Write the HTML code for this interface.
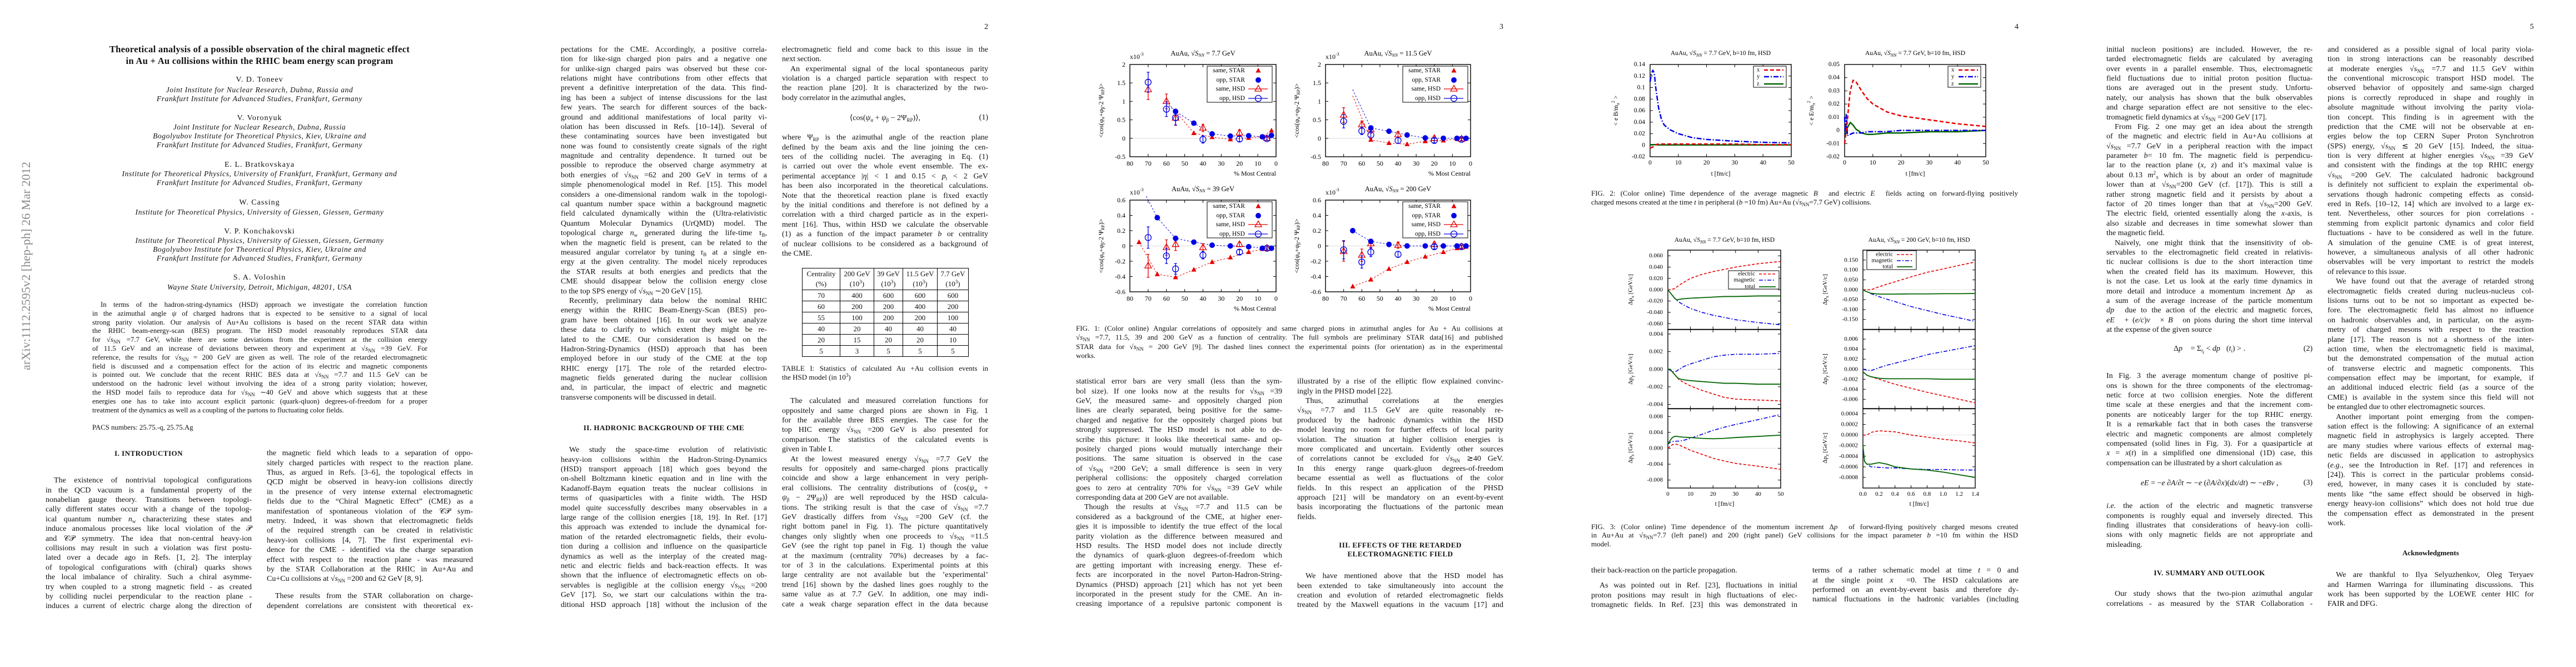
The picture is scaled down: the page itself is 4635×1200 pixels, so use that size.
<!DOCTYPE html>
<html><head><meta charset="utf-8">
<style>
html,body{margin:0;padding:0;background:#fff}
body{width:4635px;height:1200px;position:relative;overflow:hidden;font-family:"Liberation Serif",serif;color:#111}
.pg{position:absolute;top:0;width:927px;height:1200px}
.c{position:absolute;width:371px;font-size:14px;line-height:17.4px}
.c div,.cap div,.abs div{white-space:nowrap;text-align:justify;text-align-last:justify;overflow:visible}
.c div{height:17.4px}
.c div.e,.cap div.e,.abs div.e{text-align-last:left}
.c div.i,.abs div.i{text-indent:15px}
sub,sup{font-size:9px;line-height:0;vertical-align:baseline;position:relative}
sub{top:3px}sup{top:-5px}
.h{position:absolute;font-weight:bold;font-size:13px;text-align:center;white-space:nowrap;letter-spacing:.5px}
.cap{position:absolute;width:768px;font-size:13px;line-height:15.6px}
.abs{position:absolute;left:166px;width:603px;font-size:12.8px;line-height:15.8px}
.ctr{position:absolute;left:82px;width:770px;text-align:center;white-space:nowrap}
.au{font-size:14px;letter-spacing:1px}
.af{font-size:13.5px;font-style:italic;letter-spacing:.6px}
.pn{position:absolute;top:41px;left:800px;width:51px;text-align:right;font-size:14px}
.eq{position:absolute;width:371px;font-size:14px;text-align:center;white-space:nowrap}
.eq span{position:absolute;right:0}
table.t{position:absolute;left:516px;top:482px;border-collapse:collapse;font-size:13px;text-align:center}
table.t td{border:1px solid #000;padding:0;height:19px;line-height:19px}
svg#charts{position:absolute;left:0;top:0}
</style></head>
<body>

<svg id="charts" width="4635" height="1200">
<text transform="translate(54,666) rotate(-90)" textLength="375" lengthAdjust="spacingAndGlyphs" font-size="22" fill="#8a8a8a" font-family="Liberation Serif">arXiv:1112.2595v2  [hep-ph]  26 Mar 2012</text>
</svg>

<!-- PAGE 1 -->
<div class="pg" style="left:0">
  <div class="ctr" style="top:78px;font-weight:bold;font-size:16.5px;line-height:21px;letter-spacing:.3px">Theoretical analysis of a possible observation of the chiral magnetic effect<br>in Au + Au collisions within the RHIC beam energy scan program</div>
  <div class="ctr au" style="top:136px">V. D. Toneev</div>
  <div class="ctr af" style="top:154px">Joint Institute for Nuclear Research, Dubna, Russia and</div>
  <div class="ctr af" style="top:170px">Frankfurt Institute for Advanced Studies, Frankfurt, Germany</div>
  <div class="ctr au" style="top:205px">V. Voronyuk</div>
  <div class="ctr af" style="top:221px">Joint Institute for Nuclear Research, Dubna, Russia</div>
  <div class="ctr af" style="top:237px">Bogolyubov Institute for Theoretical Physics, Kiev, Ukraine and</div>
  <div class="ctr af" style="top:253px">Frankfurt Institute for Advanced Studies, Frankfurt, Germany</div>
  <div class="ctr au" style="top:289px">E. L. Bratkovskaya</div>
  <div class="ctr af" style="top:305px">Institute for Theoretical Physics, University of Frankfurt, Frankfurt, Germany  and</div>
  <div class="ctr af" style="top:321px">Frankfurt Institute for Advanced Studies, Frankfurt, Germany</div>
  <div class="ctr au" style="top:357px">W. Cassing</div>
  <div class="ctr af" style="top:374px">Institute for Theoretical Physics, University of Giessen, Giessen, Germany</div>
  <div class="ctr au" style="top:409px">V. P. Konchakovski</div>
  <div class="ctr af" style="top:425px">Institute for Theoretical Physics, University of Giessen, Giessen, Germany</div>
  <div class="ctr af" style="top:441px">Bogolyubov Institute for Theoretical Physics, Kiev, Ukraine and</div>
  <div class="ctr af" style="top:457px">Frankfurt Institute for Advanced Studies, Frankfurt, Germany</div>
  <div class="ctr au" style="top:492px">S. A. Voloshin</div>
  <div class="ctr af" style="top:509px">Wayne State University, Detroit, Michigan, 48201, USA</div>

  <div class="abs" style="top:541px">
    <div class="i">In terms of the hadron-string-dynamics (HSD) approach we investigate the correlation function</div>
    <div>in the azimuthal angle <i>ψ</i> of charged hadrons that is expected to be sensitive to a signal of local</div>
    <div>strong parity violation. Our analysis of Au+Au collisions is based on the recent STAR data within</div>
    <div>the RHIC beam-energy-scan (BES) program. The HSD model reasonably reproduces STAR data</div>
    <div>for √<i>s</i><sub>NN</sub> =7.7 GeV, while there are some deviations from the experiment at the collision energy</div>
    <div>of 11.5 GeV and an increase of deviations between theory and experiment at √<i>s</i><sub>NN</sub> =39 GeV. For</div>
    <div>reference, the results for √<i>s</i><sub>NN</sub> = 200 GeV are given as well. The role of the retarded electromagnetic</div>
    <div>field is discussed and a compensation effect for the action of its electric and magnetic components</div>
    <div>is pointed out. We conclude that the recent RHIC BES data at √<i>s</i><sub>NN</sub> =7.7 and 11.5 GeV can be</div>
    <div>understood on the hadronic level without involving the idea of a strong parity violation; however,</div>
    <div>the HSD model fails to reproduce data for √<i>s</i><sub>NN</sub> ∼40 GeV and above which suggests that at these</div>
    <div>energies one has to take into account explicit partonic (quark-qluon) degrees-of-freedom for a proper</div>
    <div class="e">treatment of the dynamics as well as a coupling of the partons to fluctuating color fields.</div>
  </div>
  <div style="position:absolute;left:166px;top:762px;font-size:12.8px">PACS numbers: 25.75.-q, 25.75.Ag</div>
  <div class="h" style="left:82px;width:371px;top:808px">I.   INTRODUCTION</div>
  <div class="c" style="left:82px;top:856.3px">
    <div class="i">The existence of nontrivial topological configurations</div>
    <div>in the QCD vacuum is a fundamental property of the</div>
    <div>nonabelian gauge theory. Transitions between topologi-</div>
    <div>cally different states occur with a change of the topolog-</div>
    <div>ical quantum number <i>n</i><sub>w</sub> characterizing these states and</div>
    <div>induce anomalous processes like local violation of the 𝒫</div>
    <div>and 𝒞𝒫 symmetry. The idea that non-central heavy-ion</div>
    <div>collisions may result in such a violation was first postu-</div>
    <div>lated over a decade ago in Refs. [1, 2]. The interplay</div>
    <div>of topological configurations with (chiral) quarks shows</div>
    <div>the local imbalance of chirality. Such a chiral asymme-</div>
    <div>try when coupled to a strong magnetic field - as created</div>
    <div>by colliding nuclei perpendicular to the reaction plane -</div>
    <div>induces a current of electric charge along the direction of</div>
  </div>
  <div class="c" style="left:480px;top:807.3px">
    <div>the magnetic field which leads to a separation of oppo-</div>
    <div>sitely charged particles with respect to the reaction plane.</div>
    <div>Thus, as argued in Refs. [3–6], the topological effects in</div>
    <div>QCD might be observed in heavy-ion collisions directly</div>
    <div>in the presence of very intense external electromagnetic</div>
    <div>fields due to the “Chiral Magnetic Effect” (CME) as a</div>
    <div>manifestation of spontaneous violation of the 𝒞𝒫 sym-</div>
    <div>metry. Indeed, it was shown that electromagnetic fields</div>
    <div>of the required strength can be created in relativistic</div>
    <div>heavy-ion collisions [4, 7]. The first experimental evi-</div>
    <div>dence for the CME - identified via the charge separation</div>
    <div>effect with respect to the reaction plane - was measured</div>
    <div>by the STAR Collaboration at the RHIC in Au+Au and</div>
    <div class="e">Cu+Cu collisions at √<i>s</i><sub>NN</sub> =200 and 62 GeV [8, 9].</div>
  </div>
  <div class="c" style="left:480px;top:1064.3px">
    <div class="i">These results from the STAR collaboration on charge-</div>
    <div>dependent correlations are consistent with theoretical ex-</div>
  </div>
</div>

<!-- PAGE 2 -->
<div class="pg" style="left:927px">
  <div class="pn">2</div>
  <div class="c" style="left:82px;top:80.8px">
    <div>pectations for the CME. Accordingly, a positive correla-</div>
    <div>tion for like-sign charged pion pairs and a negative one</div>
    <div>for unlike-sign charged pairs was observed but these cor-</div>
    <div>relations might have contributions from other effects that</div>
    <div>prevent a definitive interpretation of the data. This find-</div>
    <div>ing has been a subject of intense discussions for the last</div>
    <div>few years. The search for different sources of the back-</div>
    <div>ground and additional manifestations of local parity vi-</div>
    <div>olation has been discussed in Refs. [10–14]). Several of</div>
    <div>these contaminating sources have been investigated but</div>
    <div>none was found to consistently create signals of the right</div>
    <div>magnitude and centrality dependence. It turned out be</div>
    <div>possible to reproduce the observed charge asymmetry at</div>
    <div>both energies of √<i>s</i><sub>NN</sub> =62 and 200 GeV in terms of a</div>
    <div>simple phenomenological model in Ref. [15]. This model</div>
    <div>considers a one-dimensional random walk in the topologi-</div>
    <div>cal quantum number space within a background magnetic</div>
    <div>field calculated dynamically within the (Ultra-relativistic</div>
    <div>Quantum Molecular Dynamics (UrQMD) model. The</div>
    <div>topological charge <i>n</i><sub>w</sub> generated during the life-time <i>τ</i><sub>B</sub>,</div>
    <div>when the magnetic field is present, can be related to the</div>
    <div>measured angular correlator by tuning <i>τ</i><sub>B</sub> at a single en-</div>
    <div>ergy at the given centrality. The model nicely reproduces</div>
    <div>the STAR results at both energies and predicts that the</div>
    <div>CME should disappear below the collision energy close</div>
    <div class="e">to the top SPS energy of √<i>s</i><sub>NN</sub> ∼20 GeV  [15].</div>
    <div class="i">Recently, preliminary data below the nominal RHIC</div>
    <div>energy within the RHIC Beam-Energy-Scan (BES) pro-</div>
    <div>gram have been obtained [16]. In our work we analyze</div>
    <div>these data to clarify to which extent they might be re-</div>
    <div>lated to the CME. Our consideration is based on the</div>
    <div>Hadron-String-Dynamics (HSD) approach that has been</div>
    <div>employed before in our study of the CME at the top</div>
    <div>RHIC energy [17].  The role of the retarded electro-</div>
    <div>magnetic fields generated during the nuclear collision</div>
    <div>and, in particular, the impact of electric and magnetic</div>
    <div class="e">transverse components will be discussed in detail.</div>
  </div>
  <div class="h" style="left:82px;width:371px;top:762px">II.   HADRONIC BACKGROUND OF THE CME</div>
  <div class="c" style="left:82px;top:801.3px">
    <div class="i">We study the space-time evolution of relativistic</div>
    <div>heavy-ion collisions within the Hadron-String-Dynamics</div>
    <div>(HSD) transport approach [18] which goes beyond the</div>
    <div>on-shell Boltzmann kinetic equation and in line with the</div>
    <div>Kadanoff-Baym equation treats the nuclear collisions in</div>
    <div>terms of quasiparticles with a finite width. The HSD</div>
    <div>model quite successfully describes many observables in a</div>
    <div>large range of the collision energies [18, 19]. In Ref. [17]</div>
    <div>this approach was extended to include the dynamical for-</div>
    <div>mation of the retarded electromagnetic fields, their evolu-</div>
    <div>tion during a collision and influence on the quasiparticle</div>
    <div>dynamics as well as the interplay of the created mag-</div>
    <div>netic and electric fields and back-reaction effects. It was</div>
    <div>shown that the influence of electromagnetic effects on ob-</div>
    <div>servables is negligible at the collision energy √<i>s</i><sub>NN</sub> =200</div>
    <div>GeV [17]. So, we start our calculations within the tra-</div>
    <div>ditional HSD approach [18] without the inclusion of the</div>
  </div>
  <div class="c" style="left:480px;top:80.8px">
    <div>electromagnetic field and come back to this issue in the</div>
    <div class="e">next section.</div>
    <div class="i">An experimental signal of the local spontaneous parity</div>
    <div>violation is a charged particle separation with respect to</div>
    <div>the reaction plane [20]. It is characterized by the two-</div>
    <div class="e">body correlator in the azimuthal angles,</div>
  </div>
  <div class="eq" style="left:480px;top:204px">⟨cos(<i>ψ</i><sub>α</sub> + <i>ψ</i><sub>β</sub> − 2Ψ<sub>RP</sub>)⟩,<span>(1)</span></div>
  <div class="c" style="left:480px;top:239.3px">
    <div>where Ψ<sub>RP</sub> is the azimuthal angle of the reaction plane</div>
    <div>defined by the beam axis and the line joining the cen-</div>
    <div>ters of the colliding nuclei. The averaging in Eq. (1)</div>
    <div>is carried out over the whole event ensemble. The ex-</div>
    <div>perimental acceptance |<i>η</i>| &lt; 1 and 0.15 &lt; <i>p</i><sub>t</sub> &lt; 2 GeV</div>
    <div>has been also incorporated in the theoretical calculations.</div>
    <div>Note that the theoretical reaction plane is fixed exactly</div>
    <div>by the initial conditions and therefore is not defined by a</div>
    <div>correlation with a third charged particle as in the experi-</div>
    <div>ment [16]. Thus, within HSD we calculate the observable</div>
    <div>(1) as a function of the impact parameter <i>b</i> or centrality</div>
    <div>of nuclear collisions to be considered as a background of</div>
    <div class="e">the CME.</div>
  </div>
  <table class="t">
    <tr><td style="width:67px;height:38px;line-height:18px">Centrality<br>(%)</td><td style="width:60px;line-height:18px">200 GeV<br>(10<sup>3</sup>)</td><td style="width:51px;line-height:18px">39 GeV<br>(10<sup>3</sup>)</td><td style="width:61px;line-height:18px">11.5 GeV<br>(10<sup>3</sup>)</td><td style="width:55px;line-height:18px">7.7 GeV<br>(10<sup>3</sup>)</td></tr>
    <tr><td>70</td><td>400</td><td>600</td><td>600</td><td>600</td></tr>
    <tr><td>60</td><td>200</td><td>200</td><td>400</td><td>200</td></tr>
    <tr><td>55</td><td>100</td><td>200</td><td>200</td><td>100</td></tr>
    <tr><td>40</td><td>20</td><td>40</td><td>40</td><td>40</td></tr>
    <tr><td>20</td><td>15</td><td>20</td><td>20</td><td>10</td></tr>
    <tr><td>5</td><td>3</td><td>5</td><td>5</td><td>5</td></tr>
  </table>
  <div class="cap" style="left:480px;width:371px;top:655px">
    <div>TABLE I: Statistics of calculated Au +Au collision events in</div>
    <div class="e">the HSD model (in 10<sup>3</sup>)</div>
  </div>
  <div class="c" style="left:480px;top:713.3px">
    <div class="i">The calculated and measured correlation functions for</div>
    <div>oppositely and same charged pions are shown in Fig. 1</div>
    <div>for the available three BES energies. The case for the</div>
    <div>top HIC energy √<i>s</i><sub>NN</sub> =200 GeV is also presented for</div>
    <div>comparison. The statistics of the calculated events is</div>
    <div class="e">given in Table I.</div>
    <div class="i">At the lowest measured energy √<i>s</i><sub>NN</sub> =7.7 GeV the</div>
    <div>results for oppositely and same-charged pions practically</div>
    <div>coincide and show a large enhancement in very periph-</div>
    <div>eral collisions. The centrality distributions of ⟨cos(<i>ψ</i><sub>α</sub> +</div>
    <div><i>ψ</i><sub>β</sub> − 2Ψ<sub>RP</sub>)⟩ are well reproduced by the HSD calcula-</div>
    <div>tions. The striking result is that the case of √<i>s</i><sub>NN</sub> =7.7</div>
    <div>GeV drastically differs from √<i>s</i><sub>NN</sub> =200 GeV (cf. the</div>
    <div>right bottom panel in Fig. 1). The picture quantitatively</div>
    <div>changes only slightly when one proceeds to √<i>s</i><sub>NN</sub> =11.5</div>
    <div>GeV (see the right top panel in Fig. 1) though the value</div>
    <div>at the maximum (centrality 70%) decreases by a fac-</div>
    <div>tor of 3 in the calculations. Experimental points at this</div>
    <div>large centrality are not available but the ’experimental’</div>
    <div>trend [16] shown by the dashed lines goes roughly to the</div>
    <div>same value as at 7.7 GeV. In addition, one may indi-</div>
    <div>cate a weak charge separation effect in the data because</div>
  </div>
</div>

<!-- PAGE 3 -->
<div class="pg" style="left:1854px">
  <div class="pn">3</div>
  <div class="cap" style="left:82px;top:583px;line-height:16.3px">
    <div>FIG. 1: (Color online) Angular correlations of oppositely and same charged pions in azimuthal angles for Au + Au collisions at</div>
    <div>√<i>s</i><sub>NN</sub> =7.7, 11.5, 39 and 200 GeV as a function of centrality. The full symbols are preliminary STAR data[16] and published</div>
    <div>STAR data for √<i>s</i><sub>NN</sub> = 200 GeV [9]. The dashed lines connect the experimental points (for orientation) as in the experimental</div>
    <div class="e">works.</div>
  </div>
  <div class="c" style="left:82px;top:678.3px">
    <div>statistical error bars are very small (less than the sym-</div>
    <div>bol size). If one looks now at the results for √<i>s</i><sub>NN</sub> =39</div>
    <div>GeV, the measured same- and oppositely charged pion</div>
    <div>lines are clearly separated, being positive for the same-</div>
    <div>charged and negative for the oppositely charged pions but</div>
    <div>strongly suppressed. The HSD model is not able to de-</div>
    <div>scribe this picture: it looks like theoretical same- and op-</div>
    <div>positely charged pions would mutually interchange their</div>
    <div>positions. The same situation is observed in the case</div>
    <div>of √<i>s</i><sub>NN</sub> =200 GeV; a small difference is seen in very</div>
    <div>peripheral collisions: the oppositely charged correlation</div>
    <div>goes to zero at centrality 70% for √<i>s</i><sub>NN</sub> =39 GeV while</div>
    <div class="e">corresponding data at 200 GeV are not available.</div>
    <div class="i">Though the results at √<i>s</i><sub>NN</sub> =7.7 and 11.5 can be</div>
    <div>considered as a background of the CME, at higher ener-</div>
    <div>gies it is impossible to identify the true effect of the local</div>
    <div>parity violation as the difference between measured and</div>
    <div>HSD results. The HSD model does not include directly</div>
    <div>the dynamics of quark-gluon degrees-of-freedom which</div>
    <div>are getting important with increasing energy. These ef-</div>
    <div>fects are incorporated in the novel Parton-Hadron-String-</div>
    <div>Dynamics (PHSD) approach [21] which has not yet been</div>
    <div>incorporated in the present study for the CME. An in-</div>
    <div>creasing importance of a repulsive partonic component is</div>
  </div>
  <div class="c" style="left:480px;top:678.3px">
    <div>illustrated by a rise of the elliptic flow explained convinc-</div>
    <div class="e">ingly in the PHSD model [22].</div>
    <div class="i">Thus, azimuthal correlations at the energies</div>
    <div>√<i>s</i><sub>NN</sub> =7.7 and 11.5 GeV are quite reasonably re-</div>
    <div>produced by the hadronic dynamics within the HSD</div>
    <div>model leaving no room for further effects of local parity</div>
    <div>violation. The situation at higher collision energies is</div>
    <div>more complicated and uncertain. Evidently other sources</div>
    <div>of correlations cannot be excluded for √<i>s</i><sub>NN</sub> ≳40 GeV.</div>
    <div>In this energy range quark-gluon degrees-of-freedom</div>
    <div>became essential as well as fluctuations of the color</div>
    <div>fields. In this respect an application of the PHSD</div>
    <div>approach [21] will be mandatory on an event-by-event</div>
    <div>basis incorporating the fluctuations of the partonic mean</div>
    <div class="e">fields.</div>
  </div>
  <div class="h" style="left:480px;width:371px;top:973px;line-height:16px">III.   EFFECTS OF THE RETARDED<br>ELECTROMAGNETIC FIELD</div>
  <div class="c" style="left:480px;top:1028.3px">
    <div class="i">We have mentioned above that the HSD model has</div>
    <div>been extended to take simultaneously into account the</div>
    <div>creation and evolution of retarded electromagnetic fields</div>
    <div>treated by the Maxwell equations in the vacuum [17] and</div>
  </div>
</div>

<!-- PAGE 4 -->
<div class="pg" style="left:2781px">
  <div class="pn">4</div>
  <div class="cap" style="left:82px;top:340px;line-height:15.5px">
    <div>FIG. 2: (Color online) Time dependence of the average magnetic <i>B⃗</i> and electric <i>E⃗</i> fields acting on forward-flying positively</div>
    <div class="e">charged mesons created at the time <i>t</i> in peripheral (<i>b</i> =10 fm) Au+Au (√<i>s</i><sub>NN</sub>=7.7 GeV) collisions.</div>
  </div>
  <div class="cap" style="left:82px;top:939.5px;line-height:15.5px">
    <div>FIG. 3: (Color online) Time dependence of the momentum increment Δ<i>p⃗</i> of forward-flying positively charged mesons created</div>
    <div>in Au+Au at √<i>s</i><sub>NN</sub>=7.7 (left panel) and 200 (right panel) GeV collisions for the impact parameter <i>b</i> =10 fm within the HSD</div>
    <div class="e">model.</div>
  </div>
  <div class="c" style="left:82px;top:1018.3px">
    <div class="e">their back-reaction on the particle propagation.</div>
  </div>
  <div class="c" style="left:82px;top:1045.3px">
    <div class="i">As was pointed out in Ref. [23], fluctuations in initial</div>
    <div>proton positions may result in high fluctuations of elec-</div>
    <div>tromagnetic fields. In Ref. [23] this was demonstrated in</div>
  </div>
  <div class="c" style="left:480px;top:1018.3px">
    <div>terms of a rather schematic model at time <i>t</i> = 0 and</div>
    <div>at the single point <i>x⃗</i> =0. The HSD calculations are</div>
    <div>performed on an event-by-event basis and therefore dy-</div>
    <div>namical fluctuations in the hadronic variables (including</div>
  </div>
</div>

<!-- PAGE 5 -->
<div class="pg" style="left:3708px">
  <div class="pn">5</div>
  <div class="c" style="left:82px;top:80.8px">
    <div>initial nucleon positions) are included. However, the re-</div>
    <div>tarded electromagnetic fields are calculated by averaging</div>
    <div>over events in a parallel ensemble. Thus, electromagnetic</div>
    <div>field fluctuations due to initial proton position fluctua-</div>
    <div>tions are averaged out in the present study. Unfortu-</div>
    <div>nately, our analysis has shown that the bulk observables</div>
    <div>and charge separation effect are not sensitive to the elec-</div>
    <div class="e">tromagnetic field dynamics at √<i>s</i><sub>NN</sub> =200 GeV [17].</div>
    <div class="i">From Fig. 2 one may get an idea about the strength</div>
    <div>of the magnetic and electric field in Au+Au collisions at</div>
    <div>√<i>s</i><sub>NN</sub> =7.7 GeV in a peripheral reaction with the impact</div>
    <div>parameter <i>b</i>= 10 fm. The magnetic field is perpendicu-</div>
    <div>lar to the reaction plane (<i>x, z</i>) and it’s maximal value is</div>
    <div>about 0.13 <i>m</i><sup>2</sup><sub>π</sub> which is by about an order of magnitude</div>
    <div>lower than at √<i>s</i><sub>NN</sub>=200 GeV (cf. [17]). This is still a</div>
    <div>rather strong magnetic field and it persists by about a</div>
    <div>factor of 20 times longer than that at √<i>s</i><sub>NN</sub>=200 GeV.</div>
    <div>The electric field, oriented essentially along the <i>x</i>-axis, is</div>
    <div>also sizable and decreases in time somewhat slower than</div>
    <div class="e">the magnetic field.</div>
    <div class="i">Naively, one might think that the insensitivity of ob-</div>
    <div>servables to the electromagnetic field created in relativis-</div>
    <div>tic nuclear collisions is due to the short interaction time</div>
    <div>when the created field has its maximum. However, this</div>
    <div>is not the case. Let us look at the early time dynamics in</div>
    <div>more detail and introduce a momentum increment Δ<i>p⃗</i> as</div>
    <div>a sum of the average increase of the particle momentum</div>
    <div><i>dp⃗</i> due to the action of the electric and magnetic forces,</div>
    <div><i>eE⃗</i> + (<i>e/c</i>)<i>v⃗</i> × <i>B⃗</i> on pions during the short time interval</div>
    <div class="e">at the expense of the given source</div>
  </div>
  <div class="eq" style="left:82px;top:620px">Δ<i>p⃗</i> = Σ<sub><i>t<sub>i</sub></i></sub> &lt; <i>dp⃗</i>(<i>t<sub>i</sub></i>) &gt; .<span>(2)</span></div>
  <div class="c" style="left:82px;top:668.3px">
    <div>In Fig. 3 the average momentum change of positive pi-</div>
    <div>ons is shown for the three components of the electromag-</div>
    <div>netic force at two collision energies. Note the different</div>
    <div>time scale at these energies and that the increment com-</div>
    <div>ponents are noticeably larger for the top RHIC energy.</div>
    <div>It is a remarkable fact that in both cases the transverse</div>
    <div>electric and magnetic components are almost completely</div>
    <div>compensated (solid lines in Fig. 3). For a quasiparticle at</div>
    <div><i>x</i> = <i>x</i>(<i>t</i>) in a simplified one dimensional (1D) case, this</div>
    <div class="e">compensation can be illustrated by a short calculation as</div>
  </div>
  <div class="eq" style="left:82px;top:861px"><i>eE</i> = −<i>e</i> ∂<i>A</i>/∂<i>t</i> ∼ −<i>e</i> (∂<i>A</i>/∂<i>x</i>)(<i>dx</i>/<i>dt</i>) ∼ −<i>eBv</i> ,<span>(3)</span></div>
  <div class="c" style="left:82px;top:902.3px">
    <div><i>i.e.</i> the action of the electric and magnetic transverse</div>
    <div>components is roughly equal and inversely directed. This</div>
    <div>finding illustrates that considerations of heavy-ion colli-</div>
    <div>sions with only magnetic fields are not appropriate and</div>
    <div class="e">misleading.</div>
  </div>
  <div class="h" style="left:82px;width:371px;top:1023px">IV.   SUMMARY AND OUTLOOK</div>
  <div class="c" style="left:82px;top:1060.3px">
    <div class="i">Our study shows that the two-pion azimuthal angular</div>
    <div>correlations - as measured by the STAR Collaboration -</div>
  </div>
  <div class="c" style="left:480px;top:80.8px">
    <div>and considered as a possible signal of local parity viola-</div>
    <div>tion in strong interactions can be reasonably described</div>
    <div>at moderate energies √<i>s</i><sub>NN</sub> =7.7 and 11.5 GeV within</div>
    <div>the conventional microscopic transport HSD model. The</div>
    <div>observed behavior of oppositely and same-sign charged</div>
    <div>pions is correctly reproduced in shape and roughly in</div>
    <div>absolute magnitude without involving the parity viola-</div>
    <div>tion concept.  This finding is in agreement with the</div>
    <div>prediction that the CME will not be observable at en-</div>
    <div>ergies below the top CERN Super Proton Synchrotron</div>
    <div>(SPS) energy, √<i>s</i><sub>NN</sub> ≲ 20 GeV [15]. Indeed, the situa-</div>
    <div>tion is very different at higher energies √<i>s</i><sub>NN</sub> =39 GeV</div>
    <div>and consistent with the findings at the top RHIC energy</div>
    <div>√<i>s</i><sub>NN</sub> =200 GeV. The calculated hadronic background</div>
    <div>is definitely not sufficient to explain the experimental ob-</div>
    <div>servations though hadronic competing effects as consid-</div>
    <div>ered in Refs. [10–12, 14] which are involved to a large ex-</div>
    <div>tent. Nevertheless, other sources for pion correlations -</div>
    <div>stemming from explicit partonic dynamics and color field</div>
    <div>fluctuations - have to be considered as well in the future.</div>
    <div>A simulation of the genuine CME is of great interest,</div>
    <div>however, a simultaneous analysis of all other hadronic</div>
    <div>observables will be very important to restrict the models</div>
    <div class="e">of relevance to this issue.</div>
    <div class="i">We have found out that the average of retarded strong</div>
    <div>electromagnetic fields created during nucleus-nucleus col-</div>
    <div>lisions turns out to be not so important as expected be-</div>
    <div>fore. The electromagnetic field has almost no influence</div>
    <div>on hadronic observables and, in particular, on the asym-</div>
    <div>metry of charged mesons with respect to the reaction</div>
    <div>plane [17]. The reason is not a shortness of the inter-</div>
    <div>action time, when the electromagnetic field is maximal,</div>
    <div>but the demonstrated compensation of the mutual action</div>
    <div>of transverse electric and magnetic components. This</div>
    <div>compensation effect may be important, for example, if</div>
    <div>an additional induced electric field (as a source of the</div>
    <div>CME) is available in the system since this field will not</div>
    <div class="e">be entangled due to other electromagnetic sources.</div>
    <div class="i">Another important point emerging from the compen-</div>
    <div>sation effect is the following: A significance of an external</div>
    <div>magnetic field in astrophysics is largely accepted. There</div>
    <div>are many studies where various effects of external mag-</div>
    <div>netic fields are discussed in application to astrophysics</div>
    <div>(<i>e.g.</i>, see the Introduction in Ref. [17] and references in</div>
    <div>[24]). This is correct in the particular problems consid-</div>
    <div>ered, however, in many cases it is concluded by state-</div>
    <div>ments like “the same effect should be observed in high-</div>
    <div>energy heavy-ion collisions” which does not hold true due</div>
    <div>the compensation effect as demonstrated in the present</div>
    <div class="e">work.</div>
  </div>
  <div class="h" style="left:480px;width:371px;top:987px;letter-spacing:0">Acknowledgments</div>
  <div class="c" style="left:480px;top:1026.3px">
    <div class="i">We are thankful to Ilya Selyuzhenkov, Oleg Teryaev</div>
    <div>and Harmen Warringa for illuminating discussions. This</div>
    <div>work has been supported by the LOEWE center HIC for</div>
    <div class="e">FAIR and DFG.</div>
  </div>
</div>

<script>
// ===== Figure 1 data (centrality %, correlator x1e-3) =====
const F1_XTICKS = [80,70,60,50,40,30,20,10,0];
const F1_YTICKS_TOP = [-0.5,0,0.5,1,1.5,2];
const F1_YTICKS_BOT = [-0.6,-0.4,-0.2,0,0.2,0.4,0.6];
const F1_HSD_X = [70,60,55,40,20,5];

const F1_STAR_X_77 = [55,45,35,25,15,7.5,2.5];
const F1_SAME_STAR_77 = [0.73,0.14,0.03,-0.03,0.01,0.04,0.21];
const F1_OPP_STAR_77 = [0.73,0.41,0.12,0.06,0.07,0.04,0.08];
const F1_TREND_X_77 = [60];
const F1_TREND_SAME_77 = [1.0];
const F1_TREND_OPP_77 = [0.95];
const F1_SAME_HSD_77 = [1.32,1.0,0.55,0.28,0.15,0.0];
const F1_SAME_ERR_77 = [0.27,0.2,0.2,0.1,0.08,0.05];
const F1_OPP_HSD_77 = [1.52,0.79,0.56,-0.03,-0.02,-0.01];
const F1_OPP_ERR_77 = [0.27,0.2,0.2,0.1,0.07,0.04];

const F1_STAR_X_115 = [55,45,35,25,15,7.5,2.5];
const F1_SAME_STAR_115 = [-0.04,-0.13,-0.16,-0.08,-0.06,-0.02,-0.01];
const F1_OPP_STAR_115 = [0.28,0.19,0.09,0.01,0.0,0.0,0.0];
const F1_TREND_X_115 = [65];
const F1_TREND_SAME_115 = [1.15];
const F1_TREND_OPP_115 = [1.32];
const F1_SAME_HSD_115 = [0.63,0.37,0.24,0.1,0.0,-0.02];
const F1_SAME_ERR_115 = [0.2,0.1,0.1,0.08,0.06,0.04];
const F1_OPP_HSD_115 = [0.46,0.2,0.09,-0.06,-0.06,-0.03];
const F1_OPP_ERR_115 = [0.18,0.1,0.1,0.08,0.06,0.04];

const F1_STAR_X_39 = [75,65,55,45,35,25,15,7.5,2.5];
const F1_SAME_STAR_39 = [0.05,-0.37,-0.41,-0.31,-0.21,-0.15,-0.08,-0.04,-0.03];
const F1_OPP_STAR_X_39 = [65,55,45,35,25,15,7.5,2.5];
const F1_OPP_STAR_39 = [0.37,0.1,0.05,0.01,0.0,-0.01,-0.03,-0.03];
const F1_TREND_X_39 = [71];
const F1_TREND_OPP_39 = [0.65];
const F1_SAME_HSD_39 = [-0.26,-0.02,0.02,-0.02,0.02,-0.03];
const F1_SAME_ERR_39 = [0.15,0.1,0.08,0.05,0.03,0.02];
const F1_OPP_HSD_39 = [0.11,-0.13,-0.3,-0.12,-0.08,-0.03];
const F1_OPP_ERR_39 = [0.14,0.1,0.07,0.05,0.03,0.02];

const F1_STAR_X_200 = [65,55,45,35,25,15,7.5,2.5];
const F1_SAME_STAR_200 = [-0.53,-0.44,-0.3,-0.21,-0.14,-0.08,-0.03,-0.01];
const F1_OPP_STAR_200 = [0.2,0.06,0.02,0.0,0.0,0.0,0.0,0.0];
const F1_SAME_HSD_200 = [-0.07,-0.12,0.03,0.01,0.02,-0.01];
const F1_SAME_ERR_200 = [0.13,0.08,0.06,0.04,0.03,0.02];
const F1_OPP_HSD_200 = [-0.05,-0.21,-0.08,-0.11,-0.01,-0.01];
const F1_OPP_ERR_200 = [0.12,0.08,0.06,0.04,0.03,0.02];

// ===== Figure 2 data (t in fm/c) =====
const F2_XTICKS = [0,10,20,30,40,50];
const F2_B_YTICKS = [-0.02,0,0.02,0.04,0.06,0.08,0.1,0.12,0.14];
const F2_E_YTICKS = [-0.02,-0.01,0,0.01,0.02,0.03,0.04,0.05];
const F2_BT = [0,0.5,1,1.5,2,3,4,5,7,10,15,20,30,40,50];
const F2_BX = [-0.005,-0.004,-0.003,-0.001,0.001,0.002,0.002,0.002,0.002,0.002,0.002,0.002,0.002,0.001,0.001];
const F2_BY = [0.11,0.125,0.13,0.125,0.1,0.065,0.045,0.035,0.027,0.02,0.013,0.01,0.007,0.005,0.004];
const F2_BZ = [0.001,0.001,0.001,0.001,0.001,0.0005,0.0005,0.0005,0.0005,0.0005,0.0005,0.0005,0.0005,0.0005,0.0005];
const F2_ET = [0,0.3,0.6,1,1.5,2,3,4,6,8,10,15,20,30,40,50];
const F2_EX = [-0.01,-0.005,0.0,0.008,0.02,0.03,0.038,0.037,0.03,0.024,0.02,0.014,0.011,0.008,0.005,0.003];
const F2_EY = [0.01,-0.005,0.012,-0.004,-0.003,-0.003,-0.002,-0.002,-0.002,-0.001,-0.001,-0.001,0.0,0.0,0.0,0.0];
const F2_EZ = [-0.002,-0.004,0.0,0.002,0.004,0.006,0.004,0.001,-0.002,-0.003,-0.003,-0.002,-0.002,-0.001,-0.001,0.0];

// ===== Figure 3 data =====
const F3L_XTICKS = [0,10,20,30,40,50];
const F3R_XTICKS = [0,0.2,0.4,0.6,0.8,1.0,1.2,1.4];
const F3L_PX_TICKS = [-0.06,-0.04,-0.02,0,0.02,0.04,0.06];
const F3L_PY_TICKS = [-0.004,-0.002,0,0.002,0.004];
const F3L_PZ_TICKS = [-0.008,-0.004,0,0.004,0.008];
const F3R_PX_TICKS = [-0.15,-0.1,-0.05,0,0.05,0.1,0.15];
const F3R_PY_TICKS = [-0.006,-0.004,-0.002,0,0.002,0.004,0.006];
const F3R_PZ_TICKS = [-0.0008,-0.0006,-0.0004,-0.0002,0,0.0002,0.0004];

const F3L_T = [0,1,2,3,4,5,7,10,15,20,25,30,40,50];
const F3L_PX_EL = [0,0.0,0.001,0.002,0.005,0.008,0.013,0.02,0.027,0.032,0.036,0.04,0.046,0.05];
const F3L_PX_MAG = [0,-0.005,-0.01,-0.015,-0.019,-0.022,-0.027,-0.033,-0.04,-0.045,-0.049,-0.053,-0.058,-0.062];
const F3L_PX_TOT = [0,-0.005,-0.01,-0.015,-0.018,-0.017,-0.016,-0.015,-0.014,-0.013,-0.012,-0.012,-0.011,-0.011];
const F3L_PY_EL = [0,0.0,-0.0003,-0.0006,-0.0009,-0.0012,-0.0015,-0.0019,-0.0024,-0.0028,-0.0032,-0.0034,-0.0035,-0.0036];
const F3L_PY_MAG = [0,-0.0001,-0.0003,-0.0003,-0.0002,0.0,0.0003,0.0006,0.001,0.0014,0.0016,0.0017,0.0017,0.0018];
const F3L_PY_TOT = [0,0.0,-0.0003,-0.0006,-0.0009,-0.0011,-0.0012,-0.0013,-0.0014,-0.0015,-0.0016,-0.0016,-0.0017,-0.0017];
const F3L_PZ_EL = [0,0.0005,0.0009,0.001,0.001,0.0008,0.0003,-0.0005,-0.0015,-0.0025,-0.0032,-0.0038,-0.0045,-0.0053];
const F3L_PZ_MAG = [0.001,0.0015,0.0017,0.0017,0.0018,0.0018,0.002,0.0025,0.0035,0.0045,0.0053,0.006,0.0072,0.0085];
const F3L_PZ_TOT = [0.001,0.002,0.0027,0.003,0.003,0.0029,0.0028,0.0027,0.0025,0.0024,0.0025,0.0027,0.003,0.0033];

const F3R_T = [0,0.02,0.05,0.1,0.2,0.3,0.4,0.6,0.8,1.0,1.2,1.4];
const F3R_PX_EL = [0,0,0,0.0,0.015,0.028,0.04,0.065,0.088,0.105,0.123,0.14];
const F3R_PX_MAG = [0,-0.005,-0.01,-0.02,-0.035,-0.048,-0.06,-0.085,-0.105,-0.125,-0.142,-0.16];
const F3R_PX_TOT = [0,-0.005,-0.01,-0.018,-0.022,-0.022,-0.022,-0.021,-0.021,-0.02,-0.02,-0.019];
const F3R_PY_EL = [-0.0005,-0.0008,-0.0012,-0.0015,-0.002,-0.0025,-0.003,-0.0038,-0.0046,-0.0053,-0.006,-0.0067];
const F3R_PY_MAG = [0,-0.0001,-0.0002,-0.0003,0.0003,0.0008,0.0012,0.002,0.0029,0.0035,0.0041,0.0047];
const F3R_PY_TOT = [-0.0005,-0.0008,-0.0012,-0.0015,-0.0018,-0.0019,-0.0019,-0.0019,-0.0019,-0.002,-0.002,-0.002];
const F3R_PZ_EL = [0,0,0,0.00005,0.00008,0.00007,0.00006,0.0,-0.00004,-0.00008,-0.00011,-0.00015];
const F3R_PZ_MAG = [-0.0003,-0.0005,-0.00055,-0.0006,-0.00061,-0.00062,-0.00062,-0.00064,-0.00065,-0.00065,-0.00066,-0.00066];
const F3R_PZ_TOT = [-0.0002,-0.0005,-0.00055,-0.00055,-0.00052,-0.00055,-0.0006,-0.00064,-0.00066,-0.0007,-0.00075,-0.0008];

// ===== drawing =====
const NS = 'http://www.w3.org/2000/svg';
const SVG = document.getElementById('charts');
const RED = '#e60000', BLUE = '#0000e6', GREEN = '#006400';
function mk(tag, parent) { const e = document.createElementNS(NS, tag); parent.appendChild(e); return e; }
function at(e, o) { for (const k in o) e.setAttribute(k, o[k]); return e; }
function lin(d0, d1, r0, r1) { return v => r0 + (v - d0) / (d1 - d0) * (r1 - r0); }
function label(parent, x, y, html, size, anchor, name) {
  const t = mk('text', parent);
  at(t, {x: x, y: y, 'font-size': size, 'text-anchor': anchor, 'dominant-baseline': 'central', 'font-family': 'Liberation Serif, serif', fill: '#000'});
  
  
  t.innerHTML = html;
  return t;
}
function line(parent, x1, y1, x2, y2, stroke, w, name) {
  const l = mk('line', parent);
  at(l, {x1: x1, y1: y1, x2: x2, y2: y2, stroke: stroke, 'stroke-width': w});
  
  
  return l;
}
function poly(parent, xs, ys, X, Y, stroke, w, dash, name) {
  const p = mk('polyline', parent);
  const pts = xs.map((x, i) => X(x).toFixed(2) + ',' + Y(ys[i]).toFixed(2)).join(' ');
  at(p, {points: pts, fill: 'none', stroke: stroke, 'stroke-width': w, 'stroke-dasharray': dash, 'stroke-linejoin': 'round'});
  
  
  return p;
}
function frame(g, ox, oy, w, h, X, Y, xt, yt, name) {
  const r = mk('rect', g);
  at(r, {x: ox, y: oy, width: w, height: h, fill: 'none', stroke: '#000', 'stroke-width': 1.4});
  
  
  xt.forEach(v => { line(g, X(v), oy + h, X(v), oy + h - 5, '#000', 1, 'x-tick'); line(g, X(v), oy, X(v), oy + 5, '#000', 1, 'x-tick'); });
  yt.forEach(v => { line(g, ox, Y(v), ox + 5, Y(v), '#000', 1, 'y-tick'); line(g, ox + w, Y(v), ox + w - 5, Y(v), '#000', 1, 'y-tick'); });
}
function triFill(g, x, y, c, name) { const p = mk('path', g); at(p, {d: `M${x},${y-5}L${x+4.6},${y+3.5}L${x-4.6},${y+3.5}Z`, fill: c});   }
function triOpen(g, x, y, c, name) { const p = mk('path', g); at(p, {d: `M${x},${y-6.5}L${x+6},${y+4}L${x-6},${y+4}Z`, fill: 'none', stroke: c, 'stroke-width': 1.3});   }
function circ(g, x, y, r, c, filled, name) { const e = mk('circle', g); at(e, {cx: x, cy: y, r: r, fill: filled ? c : 'none', stroke: c, 'stroke-width': 1.3});   }
function errbar(g, x, y1, y2, c) { line(g, x, y1, x, y2, c, 1.3, 'error-bar'); line(g, x - 2.5, y1, x + 2.5, y1, c, 1.3, 'error-cap'); line(g, x - 2.5, y2, x + 2.5, y2, c, 1.3, 'error-cap'); }

function fig1Panel(name, ox, oy, w, h, ymin, ymax, yticks, energy, sameX, same, oppX, opp, trSX, trS, trOX, trO, sH, sE, oH, oE) {
  const g = mk('g', SVG);
  
  
  const X = lin(80, 0, ox, ox + w), Y = lin(ymin, ymax, oy + h, oy);
  line(g, ox, Y(0), ox + w, Y(0), '#dcdcdc', 1, 'zero-line');
  frame(g, ox, oy, w, h, X, Y, F1_XTICKS, yticks, 'plot-frame');
  F1_XTICKS.forEach(v => label(g, X(v), oy + h + 12, String(v), 12, 'middle', 'x-tick-label'));
  yticks.forEach(v => label(g, ox - 8, Y(v), String(+v.toFixed(1)), 12, 'end', 'y-tick-label'));
  label(g, ox + w / 2, oy - 20, 'AuAu,  √<tspan font-style="italic">S</tspan><tspan font-size="8" dy="3" font-style="italic">NN</tspan><tspan dy="-3"> = ' + energy + ' GeV</tspan>', 12.5, 'middle', 'panel-title');
  label(g, ox, oy - 14, 'x10<tspan font-size="8" dy="-5">-3</tspan>', 12, 'start', 'y-scale-factor');
  label(g, ox + w, oy + h + 30, '% Most Central', 12, 'end', 'x-axis-title');
  const yl = label(g, 0, 0, '&lt;cos(φ<tspan font-size="8" dy="3">α</tspan><tspan dy="-3">+φ</tspan><tspan font-size="8" dy="3">β</tspan><tspan dy="-3">-2 Ψ</tspan><tspan font-size="8" dy="3">RP</tspan><tspan dy="-3">)&gt;</tspan>', 12, 'middle', 'y-axis-title');
  yl.setAttribute('transform', `translate(${ox - 52},${oy + h / 2}) rotate(-90)`);
  // trend dashed lines
  poly(g, trSX.concat(sameX), trS.concat(same), X, Y, RED, 1, '3,3', 'same-star-trend');
  poly(g, trOX.concat(oppX), trO.concat(opp), X, Y, BLUE, 1, '3,3', 'opp-star-trend');
  // HSD
  F1_HSD_X.forEach((c, i) => { errbar(g, X(c), Y(sH[i] - sE[i]), Y(sH[i] + sE[i]), RED); triOpen(g, X(c), Y(sH[i]), RED, 'same-hsd-point'); });
  F1_HSD_X.forEach((c, i) => { errbar(g, X(c), Y(oH[i] - oE[i]), Y(oH[i] + oE[i]), BLUE); circ(g, X(c), Y(oH[i]), 5.5, BLUE, false, 'opp-hsd-point'); });
  // STAR
  sameX.forEach((c, i) => triFill(g, X(c), Y(same[i]), RED, 'same-star-point'));
  oppX.forEach((c, i) => circ(g, X(c), Y(opp[i]), 4.3, BLUE, true, 'opp-star-point'));
  // legend
  const lg = mk('g', g);
  
  
  const bx = mk('rect', lg); at(bx, {x: ox + 139, y: oy + 3, width: 117, height: 65, fill: '#fff', stroke: '#000', 'stroke-width': 1});
  
  const rows = [oy + 11, oy + 28, oy + 44, oy + 61];
  label(lg, ox + 207, rows[0], 'same, STAR', 11.5, 'end', 'legend-entry');
  triFill(lg, ox + 231, rows[0], RED, 'legend-marker');
  label(lg, ox + 207, rows[1], 'opp, STAR', 11.5, 'end', 'legend-entry');
  circ(lg, ox + 231, rows[1], 4.3, BLUE, true, 'legend-marker');
  label(lg, ox + 207, rows[2], 'same, HSD', 11.5, 'end', 'legend-entry');
  line(lg, ox + 213, rows[2], ox + 248, rows[2], RED, 1.3, 'legend-line');
  triOpen(lg, ox + 231, rows[2], RED, 'legend-marker');
  label(lg, ox + 207, rows[3], 'opp, HSD', 11.5, 'end', 'legend-entry');
  line(lg, ox + 213, rows[3], ox + 248, rows[3], BLUE, 1.3, 'legend-line');
  circ(lg, ox + 231, rows[3], 5.5, BLUE, false, 'legend-marker');
}

fig1Panel('fig1-panel-7.7gev', 2033, 116, 263, 166, -0.5, 2, F1_YTICKS_TOP, '7.7', F1_STAR_X_77, F1_SAME_STAR_77, F1_STAR_X_77, F1_OPP_STAR_77, F1_TREND_X_77, F1_TREND_SAME_77, F1_TREND_X_77, F1_TREND_OPP_77, F1_SAME_HSD_77, F1_SAME_ERR_77, F1_OPP_HSD_77, F1_OPP_ERR_77);
fig1Panel('fig1-panel-11.5gev', 2385, 116, 261, 166, -0.5, 2, F1_YTICKS_TOP, '11.5', F1_STAR_X_115, F1_SAME_STAR_115, F1_STAR_X_115, F1_OPP_STAR_115, F1_TREND_X_115, F1_TREND_SAME_115, F1_TREND_X_115, F1_TREND_OPP_115, F1_SAME_HSD_115, F1_SAME_ERR_115, F1_OPP_HSD_115, F1_OPP_ERR_115);
fig1Panel('fig1-panel-39gev', 2033, 360, 263, 165, -0.6, 0.6, F1_YTICKS_BOT, '39', F1_STAR_X_39, F1_SAME_STAR_39, F1_OPP_STAR_X_39, F1_OPP_STAR_39, [], [], F1_TREND_X_39, F1_TREND_OPP_39, F1_SAME_HSD_39, F1_SAME_ERR_39, F1_OPP_HSD_39, F1_OPP_ERR_39);
fig1Panel('fig1-panel-200gev', 2385, 360, 261, 165, -0.6, 0.6, F1_YTICKS_BOT, '200', F1_STAR_X_200, F1_SAME_STAR_200, F1_STAR_X_200, F1_OPP_STAR_200, [], [], [], [], F1_SAME_HSD_200, F1_SAME_ERR_200, F1_OPP_HSD_200, F1_OPP_ERR_200);

// generic line panel
function linePanel(name, ox, oy, w, h, xmin, xmax, xticks, xfmt, showX, ymin, ymax, yticks, yfmt, series, fs) {
  const g = mk('g', SVG);
  
  
  const X = lin(xmin, xmax, ox, ox + w), Y = lin(ymin, ymax, oy + h, oy);
  line(g, ox, Y(0), ox + w, Y(0), '#e4e4e4', 1, 'zero-line');
  frame(g, ox, oy, w, h, X, Y, xticks, yticks, 'plot-frame');
  if (showX) xticks.forEach(v => label(g, X(v), oy + h + 11, xfmt(v), fs, 'middle', 'x-tick-label'));
  yticks.forEach(v => label(g, ox - 9, Y(v), yfmt(v), fs, 'end', 'y-tick-label'));
  series.forEach(s => poly(g, s.x, s.y, X, Y, s.c, s.w, s.d, s.n));
  return g;
}
const DASH = '7,4', DASHDOT = '9,3,2,3';
function legend(g, bx, by, bw, bh, textX, lx1, lx2, rows, entries, anchor, name) {
  const lg = mk('g', g);
  
  
  const r = mk('rect', lg); at(r, {x: bx, y: by, width: bw, height: bh, fill: '#fff', stroke: '#000', 'stroke-width': 1});
  
  entries.forEach((e, i) => { label(lg, textX, rows[i], e.t, 10.5, anchor, 'legend-entry'); const l = line(lg, lx1, rows[i], lx2, rows[i], e.c, e.w, 'legend-line'); l.setAttribute('stroke-dasharray', e.d); });
}
const f2 = v => String(+v.toFixed(2));
const fInt = v => String(v);
// Fig 2
const g2a = linePanel('fig2-magnetic-field', 2969, 116, 254, 166, 0, 50, F2_XTICKS, fInt, true, -0.02, 0.14, F2_B_YTICKS, f2, [
  {x: F2_BT, y: F2_BZ, c: GREEN, w: 2.5, d: '', n: 'series-bz'},
  {x: F2_BT, y: F2_BX, c: RED, w: 2.5, d: DASH, n: 'series-bx'},
  {x: F2_BT, y: F2_BY, c: BLUE, w: 2.5, d: DASHDOT, n: 'series-by'}], 11.5);
const g2b = linePanel('fig2-electric-field', 3319, 116, 254, 166, 0, 50, F2_XTICKS, fInt, true, -0.02, 0.05, F2_E_YTICKS, f2, [
  {x: F2_ET, y: F2_EZ, c: GREEN, w: 2.5, d: '', n: 'series-ez'},
  {x: F2_ET, y: F2_EY, c: BLUE, w: 2.5, d: DASHDOT, n: 'series-ey'},
  {x: F2_ET, y: F2_EX, c: RED, w: 2.5, d: DASH, n: 'series-ex'}], 11.5);
[[g2a, 2969], [g2b, 3319]].forEach(([g, ox]) => {
  label(g, ox + 127, 96, 'AuAu,  √<tspan font-style="italic">S</tspan><tspan font-size="8" dy="3" font-style="italic">NN</tspan><tspan dy="-3"> = 7.7 GeV,  b=10 fm, HSD</tspan>', 11.5, 'middle', 'panel-title');
  label(g, ox + 127, 313, 't  [fm/c]', 11.5, 'middle', 'x-axis-title');
  legend(g, ox + 186, 119, 59, 38, ox + 192, ox + 205, ox + 240, [126, 138, 151],
    [{t: 'x', c: RED, w: 2.5, d: DASH}, {t: 'y', c: BLUE, w: 2.5, d: DASHDOT}, {t: 'z', c: GREEN, w: 2.5, d: ''}], 'start', 'legend');
});
let yl = label(g2a, 0, 0, '&lt; e B/m<tspan font-size="8" dy="3">π</tspan><tspan font-size="8" dy="-9">2</tspan><tspan dy="6"> &gt;</tspan>', 11.5, 'middle', 'y-axis-title');
yl.setAttribute('transform', 'translate(2908,199) rotate(-90)');
yl = label(g2b, 0, 0, '&lt; e E/m<tspan font-size="8" dy="3">π</tspan><tspan font-size="8" dy="-9">2</tspan><tspan dy="6"> &gt;</tspan>', 11.5, 'middle', 'y-axis-title');
yl.setAttribute('transform', 'translate(3260,199) rotate(-90)');

// Fig 3
const f3 = v => v.toFixed(3), f4 = v => v.toFixed(4), f1 = v => v.toFixed(1);
const rows3 = [450, 593, 735];
const comp = ['x', 'y', 'z'];
const F3L = [[F3L_PX_EL, F3L_PX_MAG, F3L_PX_TOT, -0.07, 0.07, F3L_PX_TICKS], [F3L_PY_EL, F3L_PY_MAG, F3L_PY_TOT, -0.0045, 0.0045, F3L_PY_TICKS], [F3L_PZ_EL, F3L_PZ_MAG, F3L_PZ_TOT, -0.01, 0.01, F3L_PZ_TICKS]];
const F3R = [[F3R_PX_EL, F3R_PX_MAG, F3R_PX_TOT, -0.2, 0.2, F3R_PX_TICKS, f3], [F3R_PY_EL, F3R_PY_MAG, F3R_PY_TOT, -0.0079, 0.0079, F3R_PY_TICKS, f3], [F3R_PZ_EL, F3R_PZ_MAG, F3R_PZ_TOT, -0.001, 0.0005, F3R_PZ_TICKS, f4]];
F3L.forEach((r, i) => {
  const g = linePanel('fig3-left-dp' + comp[i], 3001, rows3[i], 203, i === 2 ? 143 : 142.5, 0, 50, F3L_XTICKS, fInt, i === 2, r[3], r[4], r[5], f3, [
    {x: F3L_T, y: r[0], c: RED, w: 1.6, d: '5,3', n: 'series-electric'},
    {x: F3L_T, y: r[1], c: BLUE, w: 1.6, d: '7,3,2,3', n: 'series-magnetic'},
    {x: F3L_T, y: r[2], c: GREEN, w: 1.8, d: '', n: 'series-total'}], 11);
  const t = label(g, 0, 0, 'Δp<tspan font-size="8" dy="3">' + comp[i] + '</tspan><tspan dy="-3">  [GeV/c]</tspan>', 11, 'middle', 'y-axis-title');
  t.setAttribute('transform', `translate(2934,${rows3[i] + 71}) rotate(-90)`);
  if (i === 0) legend(g, 3110, 487, 91, 33, 3158, 3165, 3195, [493, 504, 516],
    [{t: 'electric', c: RED, w: 1.6, d: '5,3'}, {t: 'magnetic', c: BLUE, w: 1.6, d: '7,3,2,3'}, {t: 'total', c: GREEN, w: 1.8, d: ''}], 'end', 'legend');
});
F3R.forEach((r, i) => {
  const g = linePanel('fig3-right-dp' + comp[i], 3352, rows3[i], 202, i === 2 ? 143 : 142.5, 0, 1.4, F3R_XTICKS, f1, i === 2, r[3], r[4], r[5], r[6], [
    {x: F3R_T, y: r[0], c: RED, w: 1.6, d: '5,3', n: 'series-electric'},
    {x: F3R_T, y: r[1], c: BLUE, w: 1.6, d: '7,3,2,3', n: 'series-magnetic'},
    {x: F3R_T, y: r[2], c: GREEN, w: 1.8, d: '', n: 'series-total'}], 11);
  const t = label(g, 0, 0, 'Δp<tspan font-size="8" dy="3">' + comp[i] + '</tspan><tspan dy="-3">  [GeV/c]</tspan>', 11, 'middle', 'y-axis-title');
  t.setAttribute('transform', `translate(3284,${rows3[i] + 71}) rotate(-90)`);
  if (i === 0) legend(g, 3359, 451, 89, 34, 3406, 3413, 3441, [458, 469, 480],
    [{t: 'electric', c: RED, w: 1.6, d: '5,3'}, {t: 'magnetic', c: BLUE, w: 1.6, d: '7,3,2,3'}, {t: 'total', c: GREEN, w: 1.8, d: ''}], 'end', 'legend');
});
const gt = mk('g', SVG);


label(gt, 3103, 432, 'AuAu,  √<tspan font-style="italic">S</tspan><tspan font-size="8" dy="3" font-style="italic">NN</tspan><tspan dy="-3"> = 7.7 GeV,  b=10 fm, HSD</tspan>', 11.5, 'middle', 'panel-title');
label(gt, 3453, 432, 'AuAu,  √<tspan font-style="italic">S</tspan><tspan font-size="8" dy="3" font-style="italic">NN</tspan><tspan dy="-3"> = 200 GeV,  b=10 fm, HSD</tspan>', 11.5, 'middle', 'panel-title');
label(gt, 3103, 907, 't  [fm/c]', 11.5, 'middle', 'x-axis-title');
label(gt, 3453, 907, 't  [fm/c]', 11.5, 'middle', 'x-axis-title');

// fit over-long text lines into their columns
document.querySelectorAll('.c div, .cap div, .abs div').forEach(d => {
  const w = d.clientWidth, sw = d.scrollWidth;
  if (sw > w + 1) {
    const fs = parseFloat(getComputedStyle(d).fontSize);
    d.style.fontSize = (fs * w / sw * 0.995) + 'px';
  }
});
</script>
</body></html>
